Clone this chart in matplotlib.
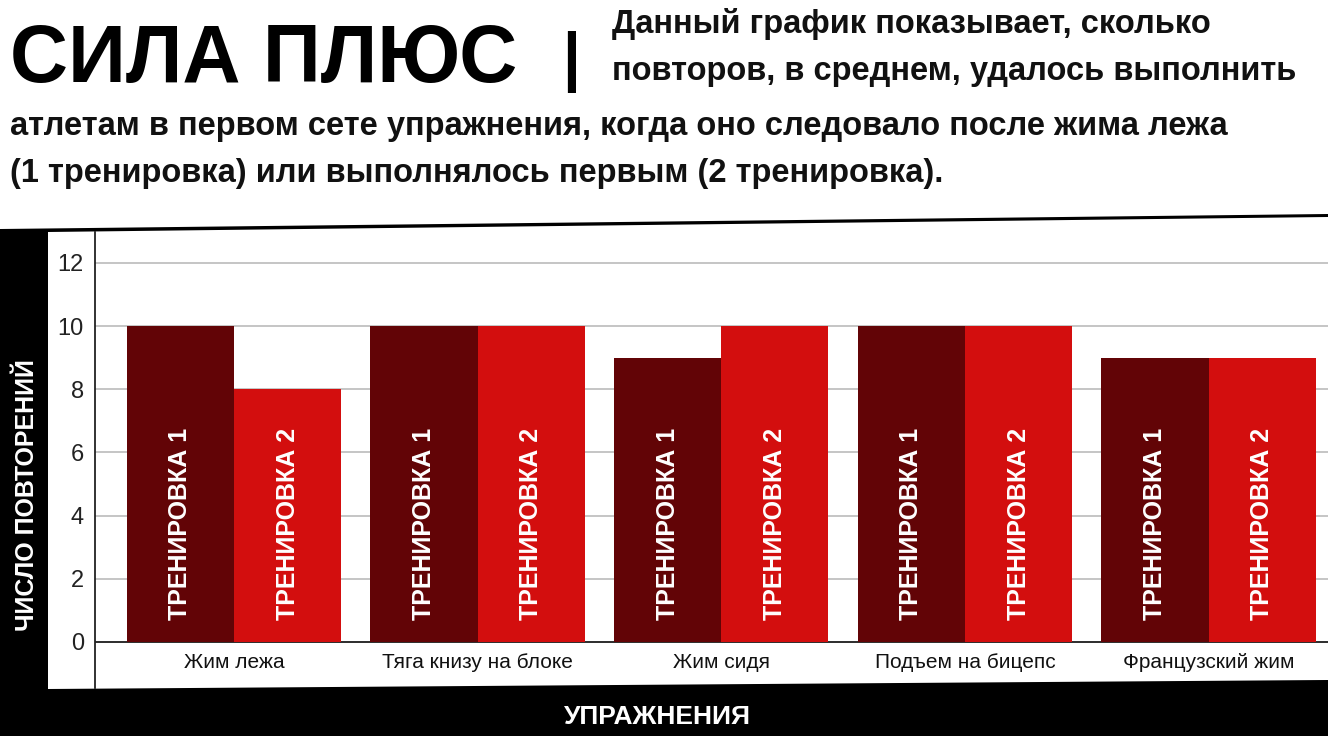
import matplotlib.pyplot as plt
from matplotlib.patches import Polygon

# average reps in first set
exercises = ['Жим лежа', 'Тяга книзу на блоке', 'Жим сидя', 'Подъем на бицепс', 'Французский жим']
workout1 = [10.0, 10.0, 9.0, 10.0, 9.0]
workout2 = [8.0, 10.0, 10.0, 10.0, 9.0]
labels = ['ТРЕНИРОВКА 1', 'ТРЕНИРОВКА 2']
yticks = [0, 2, 4, 6, 8, 10, 12]

dark_red = '#620406'
red = '#D30E0E'

plt.rcParams['font.family'] = ['Liberation Sans', 'DejaVu Sans']

W, H = 1328, 736
fig = plt.figure(figsize=(W / 100, H / 100), dpi=100)

# black background band and white chart panel
fig.patches.append(Polygon([[0, 0], [1, 0], [1, 1 - 214 / H], [0, 1 - 229 / H]],
                           closed=True, transform=fig.transFigure, facecolor='black',
                           edgecolor='none', zorder=0))
fig.patches.append(Polygon([[48 / W, 1 - 689 / H], [1, 1 - 680 / H], [1, 1 - 217 / H],
                            [48 / W, 1 - 232 / H]],
                           closed=True, transform=fig.transFigure, facecolor='white',
                           edgecolor='none', zorder=0))

ax = fig.add_axes([95 / W, 1 - 688 / H, 1 - 95 / W, (688 - 232) / H])
ax.set_facecolor('none')
ax.set_zorder(2)

x = list(range(len(exercises)))
w = 0.44
ax.bar([i - w / 2 for i in x], workout1, width=w, color=dark_red, zorder=3)
ax.bar([i + w / 2 for i in x], workout2, width=w, color=red, zorder=3)

for i in x:
    ax.text(i - w / 2, 0.7, labels[0], rotation=90, ha='center', va='bottom',
            color='white', fontsize=18, fontweight='bold', zorder=4)
    ax.text(i + w / 2, 0.7, labels[1], rotation=90, ha='center', va='bottom',
            color='white', fontsize=18, fontweight='bold', zorder=4)
    ax.text(i, -0.66, exercises[i], ha='center', va='center', fontsize=15, color='#111111')

ax.set_xlim(-0.57, 4.49)
ax.set_ylim(-1.46, 12.98)
ax.set_yticks(yticks)
ax.set_yticklabels([str(t) for t in yticks], fontsize=17, color='#222222')
ax.tick_params(axis='y', length=0, pad=8)
ax.set_xticks([])
ax.grid(axis='y', color='#c0c0c0', linewidth=1.3, zorder=1)
ax.axhline(0, color='#222222', linewidth=1.3, zorder=2)
for s in ['top', 'right', 'bottom']:
    ax.spines[s].set_visible(False)
ax.spines['left'].set_color('#222222')
ax.spines['left'].set_linewidth(1.3)

# axis titles on the black band
fig.text(27 / W, 1 - 495 / H, 'ЧИСЛО ПОВТОРЕНИЙ', rotation=90, ha='center', va='center',
         color='white', fontsize=18, fontweight='bold')
fig.text(657 / W, 1 - 717 / H, 'УПРАЖНЕНИЯ', ha='center', va='center',
         color='white', fontsize=19, fontweight='bold')

# heading
fig.text(10 / W, 1 - 82 / H, 'СИЛА ПЛЮС', ha='left', va='baseline',
         fontsize=58, fontweight='bold', color='black')
fig.text(571 / W, 1 - 78 / H, '|', ha='center', va='baseline',
         fontsize=46, fontweight='bold', color='black')
sub = [
    (612, 33, 'Данный график показывает, сколько'),
    (612, 80, 'повторов, в среднем, удалось выполнить'),
    (10, 135, 'атлетам в первом сете упражнения, когда оно следовало после жима лежа'),
    (10, 182, '(1 тренировка) или выполнялось первым (2 тренировка).'),
]
for sx, sy, s in sub:
    fig.text(sx / W, 1 - sy / H, s, ha='left', va='baseline', fontsize=23.5,
             fontweight='bold', color='#111111')

fig.savefig('out.png', dpi=100)
